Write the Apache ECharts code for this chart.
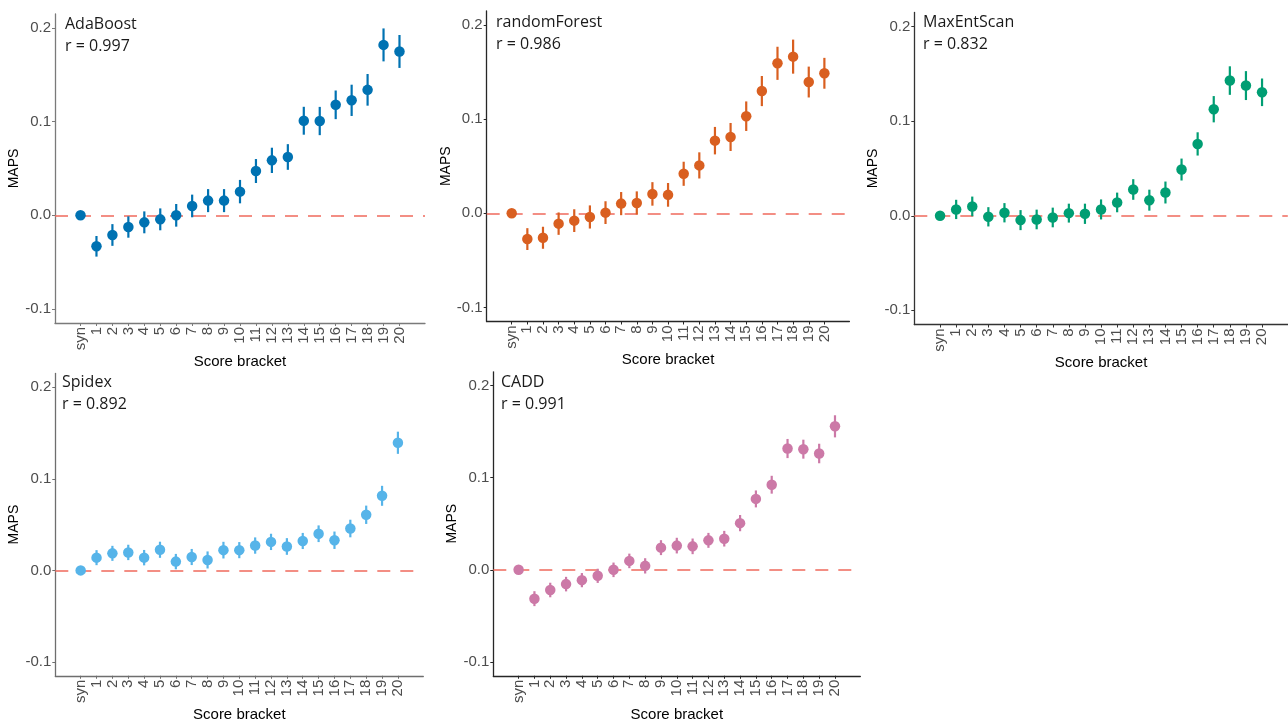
<!DOCTYPE html>
<html>
<head>
<meta charset="utf-8">
<script src="https://cdn.jsdelivr.net/npm/echarts@6/dist/echarts.min.js"></script>
<style>
html,body{margin:0;padding:0;background:#fff;}
#chart{width:1288px;height:723px;}
</style>
</head>
<body>
<div id="chart"></div>
<script>
const categories = ['syn','1','2','3','4','5','6','7','8','9','10','11','12','13','14','15','16','17','18','19','20'];
const yTicks = [-0.1, 0.0, 0.1, 0.2];

const adaMean = [0, -0.0331, -0.021, -0.0125, -0.0075, -0.0043, 0.0, 0.010, 0.0157, 0.0157, 0.0253, 0.0473, 0.0587, 0.0623, 0.101, 0.1007, 0.118, 0.1228, 0.134, 0.182, 0.175];
const adaErr  = [0, 0.011, 0.0116, 0.0114, 0.0117, 0.0117, 0.0121, 0.0121, 0.0123, 0.0123, 0.0125, 0.0128, 0.0135, 0.0137, 0.0149, 0.0151, 0.0153, 0.0167, 0.0169, 0.0176, 0.0176];

const rfMean = [0, -0.0274, -0.026, -0.011, -0.0078, -0.0039, 0.0007, 0.0103, 0.011, 0.0206, 0.0196, 0.042, 0.0509, 0.0772, 0.0811, 0.1032, 0.1299, 0.1594, 0.1665, 0.1395, 0.1488];
const rfErr  = [0, 0.0116, 0.0117, 0.0119, 0.0121, 0.0123, 0.0121, 0.0123, 0.0123, 0.0125, 0.0126, 0.0128, 0.0139, 0.0146, 0.0149, 0.0157, 0.016, 0.0176, 0.0181, 0.0164, 0.0164];

const mesMean = [0, 0.0067, 0.0099, -0.0011, 0.0032, -0.0046, -0.0039, -0.0018, 0.0028, 0.0021, 0.0067, 0.0141, 0.0278, 0.0165, 0.0246, 0.0489, 0.076, 0.1127, 0.143, 0.1377, 0.1306];
const mesErr  = [0, 0.0102, 0.0104, 0.0102, 0.0102, 0.0106, 0.0104, 0.0104, 0.01, 0.0107, 0.0106, 0.0104, 0.0109, 0.0111, 0.0116, 0.0116, 0.0123, 0.0139, 0.0151, 0.0153, 0.0146];

const spidexMean = [0, 0.0139, 0.0186, 0.0196, 0.0139, 0.0225, 0.0096, 0.0146, 0.0114, 0.0221, 0.0221, 0.0271, 0.0311, 0.0261, 0.0321, 0.04, 0.0329, 0.0457, 0.0607, 0.0814, 0.1393];
const spidexErr  = [0, 0.0082, 0.0082, 0.0084, 0.0084, 0.0088, 0.0084, 0.0088, 0.0093, 0.0091, 0.0088, 0.0089, 0.0089, 0.0091, 0.0088, 0.0091, 0.0095, 0.0096, 0.01, 0.0109, 0.0121];

const caddMean = [0, -0.0313, -0.0219, -0.0155, -0.0112, -0.0065, 0, 0.0097, 0.0043, 0.0241, 0.0263, 0.0255, 0.032, 0.0338, 0.0507, 0.077, 0.0924, 0.1317, 0.131, 0.1263, 0.1558];
const caddErr  = [0, 0.0081, 0.0079, 0.0079, 0.0077, 0.0077, 0.0079, 0.0079, 0.0083, 0.0081, 0.0085, 0.0085, 0.0081, 0.0085, 0.0088, 0.0092, 0.0097, 0.0104, 0.0103, 0.0106, 0.012];

const panelNames = ['AdaBoost', 'randomForest', 'MaxEntScan', 'Spidex', 'CADD'];
const panelR = ['0.997', '0.986', '0.832', '0.892', '0.991'];
const panelMeans = [adaMean, rfMean, mesMean, spidexMean, caddMean];
const panelErrs = [adaErr, rfErr, mesErr, spidexErr, caddErr];
const panelColors = ['#0072B2', '#D95F20', '#009E73', '#56B4E9', '#CC79A7'];

// layout (pixels)
const grids = [
  {left: 55, top: 14, width: 370, height: 309},
  {left: 486.7, top: 11, width: 362.7, height: 310.5},
  {left: 914.3, top: 12.5, width: 373.5, height: 312},
  {left: 55.3, top: 373.4, width: 368, height: 306.4},
  {left: 493.3, top: 371.8, width: 367, height: 306.3}
];
const titlePos = [
  {left: 65, top: 13},
  {left: 496, top: 11},
  {left: 923, top: 11},
  {left: 62, top: 371},
  {left: 501, top: 371}
];
const axisColors = ['#7a7a7a', '#262626', '#333333', '#6e6e6e', '#262626'];

const xIdx = categories.map((c, i) => i);

const option = {
  animation: false,
  backgroundColor: '#ffffff',
  title: [],
  grid: [],
  xAxis: [],
  yAxis: [],
  series: []
};

panelNames.forEach((name, p) => {
  const g = grids[p];
  option.grid.push({left: g.left, top: g.top, width: g.width, height: g.height, containLabel: false});
  option.title.push({
    text: name + '\nr = ' + panelR[p],
    left: titlePos[p].left, top: titlePos[p].top, padding: 0,
    textStyle: {fontFamily: 'Open Sans', fontSize: 16, fontWeight: 'normal', color: '#1a1a1a', lineHeight: 22}
  });
  option.xAxis.push({
    type: 'value', gridIndex: p, min: -1.6, max: 21.6,
    name: 'Score bracket', nameLocation: 'middle', nameGap: 30,
    nameTextStyle: {fontFamily: 'Liberation Sans', fontSize: 15, color: '#000'},
    axisLine: {show: true, onZero: false, lineStyle: {color: axisColors[p], width: 1.3}},
    axisTick: {show: true, length: 3, customValues: xIdx, lineStyle: {color: axisColors[p]}},
    axisLabel: {
      customValues: xIdx, rotate: 90, margin: 4,
      fontFamily: 'Liberation Sans', fontSize: 15, color: '#4d4d4d',
      formatter: v => categories[Math.round(v)]
    },
    splitLine: {show: false}
  });
  option.yAxis.push({
    type: 'value', gridIndex: p, min: -0.115, max: 0.215,
    name: 'MAPS', nameLocation: 'middle', nameGap: 25,
    nameTextStyle: {fontFamily: 'Liberation Sans', fontSize: 14, color: '#000'},
    axisLine: {show: true, onZero: false, lineStyle: {color: axisColors[p], width: 1.3}},
    axisTick: {show: true, length: 3, customValues: yTicks, lineStyle: {color: axisColors[p]}},
    axisLabel: {
      customValues: yTicks, margin: 4,
      fontFamily: 'Liberation Sans', fontSize: 15, color: '#4d4d4d',
      formatter: v => Number(v).toFixed(1)
    },
    splitLine: {show: false}
  });
  const means = panelMeans[p], errs = panelErrs[p], col = panelColors[p];
  option.series.push({
    type: 'custom', xAxisIndex: p, yAxisIndex: p,
    data: means.map((m, i) => [i, m - errs[i], m + errs[i]]),
    encode: {x: 0, y: [1, 2]},
    renderItem: (params, api) => {
      const a = api.coord([api.value(0), api.value(1)]);
      const b = api.coord([api.value(0), api.value(2)]);
      return {type: 'line', shape: {x1: a[0], y1: a[1], x2: b[0], y2: b[1]},
              style: {stroke: col, lineWidth: 2.2}};
    },
    z: 3
  });
  option.series.push({
    type: 'scatter', xAxisIndex: p, yAxisIndex: p,
    data: means.map((m, i) => [i, m]),
    symbol: 'circle', symbolSize: 10.5,
    itemStyle: {color: col, opacity: 1},
    z: 4,
    markLine: {
      silent: true, symbol: 'none', label: {show: false},
      lineStyle: {color: '#F0695C', type: [13, 10], width: 1.5},
      data: [{yAxis: 0}],
      z: 2
    }
  });
});

const chart = echarts.init(document.getElementById('chart'), null, {renderer: 'canvas'});
chart.setOption(option);
</script>
</body>
</html>
